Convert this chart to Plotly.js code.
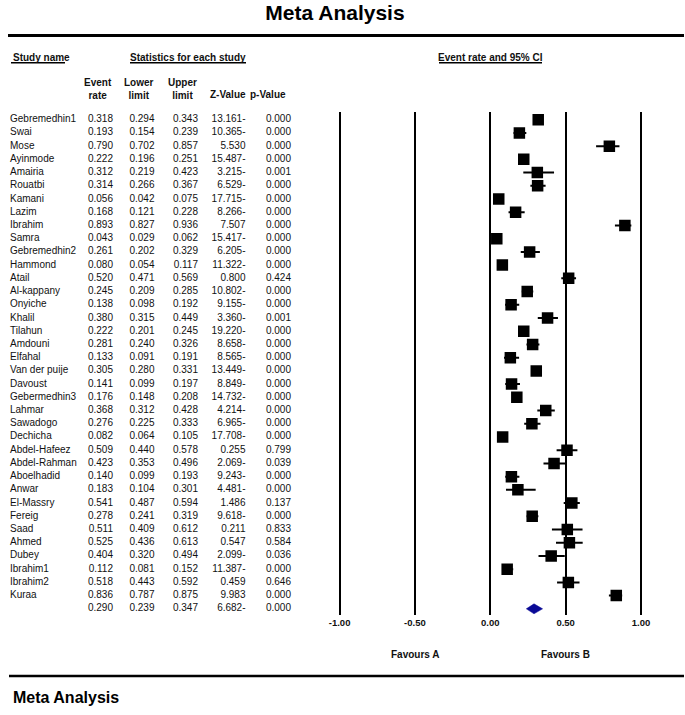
<!DOCTYPE html>
<html>
<head>
<meta charset="utf-8">
<script src="https://cdn.plot.ly/plotly-3.0.1.min.js"></script>
<style>html,body{margin:0;padding:0;background:#fff;}#chart{width:685px;height:715px;}</style>
</head>
<body>
<div id="chart"></div>
<script>
// ---------------- DATA ----------------
const studyNames = ["Gebremedhin1","Swai","Mose","Ayinmode","Amairia","Rouatbi","Kamani","Lazim","Ibrahim","Samra",
  "Gebremedhin2","Hammond","Atail","Al-kappany","Onyiche","Khalil","Tilahun","Amdouni","Elfahal","Van der puije",
  "Davoust","Gebermedhin3","Lahmar","Sawadogo","Dechicha","Abdel-Hafeez","Abdel-Rahman","Aboelhadid","Anwar","El-Massry",
  "Fereig","Saad","Ahmed","Dubey","Ibrahim1","Ibrahim2","Kuraa"];
const eventRate = [0.318,0.193,0.790,0.222,0.312,0.314,0.056,0.168,0.893,0.043,
  0.261,0.080,0.520,0.245,0.138,0.380,0.222,0.281,0.133,0.305,
  0.141,0.176,0.368,0.276,0.082,0.509,0.423,0.140,0.183,0.541,
  0.278,0.511,0.525,0.404,0.112,0.518,0.836];
const lowerLimit = [0.294,0.154,0.702,0.196,0.219,0.266,0.042,0.121,0.827,0.029,
  0.202,0.054,0.471,0.209,0.098,0.315,0.201,0.240,0.091,0.280,
  0.099,0.148,0.312,0.225,0.064,0.440,0.353,0.099,0.104,0.487,
  0.241,0.409,0.436,0.320,0.081,0.443,0.787];
const upperLimit = [0.343,0.239,0.857,0.251,0.423,0.367,0.075,0.228,0.936,0.062,
  0.329,0.117,0.569,0.285,0.192,0.449,0.245,0.326,0.191,0.331,
  0.197,0.208,0.428,0.333,0.105,0.578,0.496,0.193,0.301,0.594,
  0.319,0.612,0.613,0.494,0.152,0.592,0.875];
const zValue = ["13.161-","10.365-","5.530","15.487-","3.215-","6.529-","17.715-","8.266-","7.507","15.417-",
  "6.205-","11.322-","0.800","10.802-","9.155-","3.360-","19.220-","8.658-","8.565-","13.449-",
  "8.849-","14.732-","4.214-","6.965-","17.708-","0.255","2.069-","9.243-","4.481-","1.486",
  "9.618-","0.211","0.547","2.099-","11.387-","0.459","9.983"];
const pValue = [0.000,0.000,0.000,0.000,0.001,0.000,0.000,0.000,0.000,0.000,
  0.000,0.000,0.424,0.000,0.000,0.001,0.000,0.000,0.000,0.000,
  0.000,0.000,0.000,0.000,0.000,0.799,0.039,0.000,0.000,0.137,
  0.000,0.833,0.584,0.036,0.000,0.646,0.000];
const summaryRate = 0.290, summaryLower = 0.239, summaryUpper = 0.347, summaryZ = "6.682-", summaryP = 0.000;
const axisTicks = [-1, -0.5, 0, 0.5, 1];
const axisTickText = ["-1.00","-0.50","0.00","0.50","1.00"];

// ---------------- LAYOUT HELPERS ----------------
const W = 685, H = 715;
const ROW0 = 119.7, STEP = 13.22;           // pixel centre of first row, row spacing
const FONT = "Liberation Sans, Arial, sans-serif";
const px = x => x / W, py = y => 1 - y / H;
const rowAt = y => (y - ROW0) / STEP;        // pixel y -> row coordinate

const nRows = studyNames.length;
const rows = studyNames.map((_, i) => i);
const sumRow = nRows;
const allRows = rows.concat([sumRow]);
const f3 = v => v.toFixed(3);

// forest plot pixel geometry
const X0PX = 490.3, UNIT = 150.7;
const xr = [-1.01, 1.01];
const plotTop = 111.7, plotBot = 615;

const txt = (x, y, text, pos, extra) => Object.assign({
  type: 'scatter', mode: 'text', x: x, y: y, text: text, textposition: pos,
  xaxis: 'x2', yaxis: 'y2', hoverinfo: 'skip', showlegend: false,
  textfont: {family: FONT, size: 10, color: '#111'}
}, extra || {});

const colRight = {rate: 113, lower: 154.5, upper: 198, z: 245.5, p: 291};
const traces = [];

// table text
traces.push(txt(rows.map(() => 10), rows, studyNames, 'middle right'));
traces.push(txt(allRows.map(() => colRight.rate), allRows, eventRate.concat([summaryRate]).map(f3), 'middle left'));
traces.push(txt(allRows.map(() => colRight.lower), allRows, lowerLimit.concat([summaryLower]).map(f3), 'middle left'));
traces.push(txt(allRows.map(() => colRight.upper), allRows, upperLimit.concat([summaryUpper]).map(f3), 'middle left'));
traces.push(txt(allRows.map(() => colRight.z), allRows, zValue.concat([summaryZ]), 'middle left'));
traces.push(txt(allRows.map(() => colRight.p), allRows, pValue.concat([summaryP]).map(f3), 'middle left'));

// study squares with CI
traces.push({
  type: 'scatter', mode: 'markers', x: eventRate, y: rows, xaxis: 'x', yaxis: 'y',
  marker: {symbol: 'square', size: 11.5, color: '#000', line: {width: 0}},
  error_x: {type: 'data', symmetric: false,
    array: eventRate.map((v, i) => upperLimit[i] - v),
    arrayminus: eventRate.map((v, i) => v - lowerLimit[i]),
    thickness: 2, width: 0, color: '#000'},
  hoverinfo: 'skip', showlegend: false
});
// summary diamond
const dh = 5 / STEP;
traces.push({
  type: 'scatter', mode: 'lines', xaxis: 'x', yaxis: 'y',
  x: [summaryLower, summaryRate, summaryUpper, summaryRate, summaryLower],
  y: [sumRow, sumRow - dh, sumRow, sumRow + dh, sumRow],
  fill: 'toself', fillcolor: '#0a0a96', line: {color: '#0a0a96', width: 0.5},
  hoverinfo: 'skip', showlegend: false
});

const ann = (x, y, text, opts) => Object.assign({
  x: px(x), y: py(y), xref: 'paper', yref: 'paper', text: text, showarrow: false,
  xanchor: 'center', yanchor: 'middle', font: {family: FONT, size: 10, color: '#111'}
}, opts || {});
const bold = {family: FONT, size: 10, color: '#111', weight: 'bold'};

const annotations = [
  ann(11, 57, '<b>Study name</b>', {xanchor: 'left'}),
  ann(188, 57, '<b>Statistics for each study</b>'),
  ann(490.5, 57, '<b>Event rate and 95% CI</b>'),
  ann(97.5, 88.5, '<b>Event</b><br><b>rate</b>'),
  ann(139, 88.5, '<b>Lower</b><br><b>limit</b>'),
  ann(182, 88.5, '<b>Upper</b><br><b>limit</b>'),
  ann(228, 94.3, '<b>Z-Value</b>'),
  ann(267.5, 94.3, '<b>p-Value</b>'),
  ann(415, 654.3, '<b>Favours A</b>'),
  ann(565.3, 654.3, '<b>Favours B</b>'),
  ann(11, 697, '<b>Meta Analysis</b>', {xanchor: 'left', font: {family: FONT, size: 16, color: '#000'}})
];

const line = (x0, y0, x1, y1, w) => ({type: 'line', xref: 'paper', yref: 'paper',
  x0: px(x0), y0: py(y0), x1: px(x1), y1: py(y1), line: {color: '#000', width: w}});
const shapes = [
  line(8, 35.5, 684, 35.5, 3),
  line(11, 62.8, 65, 62.8, 1.5),
  line(130, 62.8, 246, 62.8, 1.5),
  line(439, 62.8, 542, 62.8, 1.5),
  line(9, 676, 684, 676, 2.5)
];

const layout = {
  width: W, height: H, margin: {l: 0, r: 0, t: 0, b: 0, pad: 0},
  paper_bgcolor: '#fff', plot_bgcolor: 'rgba(0,0,0,0)', showlegend: false,
  font: {family: FONT, color: '#111'},
  title: {text: '<b>Meta Analysis</b>', x: px(335), y: py(13), xanchor: 'center', yanchor: 'middle',
    xref: 'paper', yref: 'paper', font: {family: FONT, size: 21, color: '#000'}},
  xaxis: {domain: [px(X0PX + xr[0] * UNIT), px(X0PX + xr[1] * UNIT)], range: xr, anchor: 'y',
    tickvals: axisTicks, ticktext: axisTickText, ticks: '', showline: false,
    showgrid: true, gridcolor: '#000', gridwidth: 2,
    zeroline: true, zerolinecolor: '#000', zerolinewidth: 2,
    tickfont: {family: FONT, size: 9.5, color: '#111', weight: 'bold'}, fixedrange: true},
  yaxis: {domain: [py(plotBot), py(plotTop)], range: [rowAt(plotBot), rowAt(plotTop)], anchor: 'x',
    showticklabels: false, ticks: '', showgrid: false, zeroline: false, showline: false, fixedrange: true},
  xaxis2: {domain: [0, 1], range: [0, W], anchor: 'y2', visible: false, fixedrange: true},
  yaxis2: {domain: [0, 1], range: [rowAt(H), rowAt(0)], anchor: 'x2', visible: false, fixedrange: true},
  annotations: annotations, shapes: shapes
};

Plotly.newPlot('chart', traces, layout, {staticPlot: true, displayModeBar: false});
</script>
</body>
</html>
